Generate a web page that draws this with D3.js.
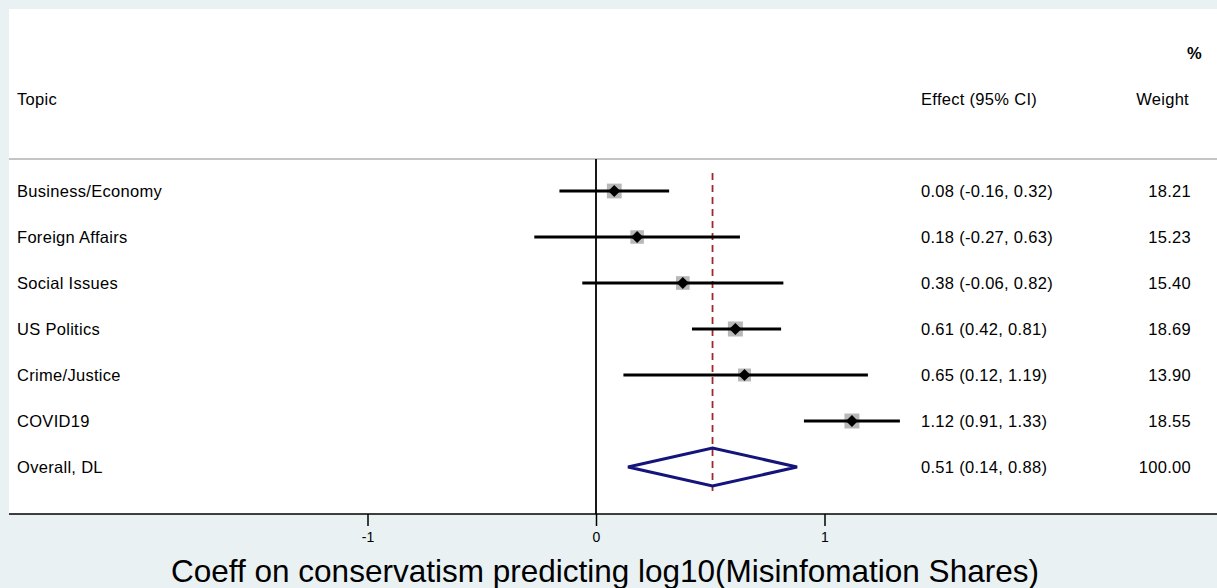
<!DOCTYPE html>
<html>
<head>
<meta charset="utf-8">
<script src="https://cdnjs.cloudflare.com/ajax/libs/d3/7.8.5/d3.min.js"></script>
<style>
  body { margin: 0; background: #e9f1f3; }
  svg { display: block; }
  text { font-family: "Liberation Sans", Arial, sans-serif; fill: #000; }
  .t { font-size: 16.5px; letter-spacing: 0.3px; }
</style>
</head>
<body>
<div id="chart"></div>
<script>
// forest plot data
var topics = ["Business/Economy", "Foreign Affairs", "Social Issues", "US Politics", "Crime/Justice", "COVID19"];
var effects = [0.08, 0.18, 0.38, 0.61, 0.65, 1.12];
var lower = [-0.16, -0.27, -0.06, 0.42, 0.12, 0.91];
var upper = [0.32, 0.63, 0.82, 0.81, 1.19, 1.33];
var weights = [18.21, 15.23, 15.40, 18.69, 13.90, 18.55];
var overall = {label: "Overall, DL", effect: 0.51, lower: 0.14, upper: 0.88, weight: 100.00};
var xTicks = [-1, 0, 1];

var W = 1217, H = 588;

var svg = d3.select("#chart").append("svg")
    .attr("width", W)
    .attr("height", H);

// white plot panel
svg.append("rect")
    .attr("x", 9).attr("y", 9)
    .attr("width", W - 9).attr("height", 514 - 9)
    .attr("fill", "#fff");

var x = d3.scaleLinear()
    .domain([-1, 1])
    .range([367.5, 824.5]);

var rows = topics.map(function(t, i) {
    return {label: t, effect: effects[i], lower: lower[i], upper: upper[i], weight: weights[i]};
});
var allRows = rows.concat([overall]);

var y = d3.scalePoint()
    .domain(allRows.map(function(d) { return d.label; }))
    .range([191, 467]);

// plain hyphen instead of unicode minus
var f2 = d3.format(".2f");
function fmt(v) { return f2(v).replace("\u2212", "-"); }

// header
svg.append("text").attr("class", "t").attr("x", 17).attr("y", 105).text("Topic");
svg.append("text").attr("class", "t").attr("x", 921).attr("y", 105).text("Effect (95% CI)");
svg.append("text").attr("class", "t").attr("x", 1189).attr("y", 105).attr("text-anchor", "end").text("Weight");
svg.append("text").attr("class", "t").attr("x", 1202).attr("y", 59).attr("text-anchor", "end").style("font-weight", "bold").text("%");

svg.append("line")
    .attr("x1", 9).attr("x2", W)
    .attr("y1", 159).attr("y2", 159)
    .attr("stroke", "#c4c4c4").attr("stroke-width", 2);

// zero line
svg.append("line")
    .attr("x1", x(0)).attr("x2", x(0))
    .attr("y1", 159).attr("y2", 514)
    .attr("stroke", "#000").attr("stroke-width", 1.8);

// overall dashed line
svg.append("line")
    .attr("x1", x(overall.effect)).attr("x2", x(overall.effect))
    .attr("y1", 173).attr("y2", 491)
    .attr("stroke", "#a0282d").attr("stroke-width", 1.8)
    .attr("stroke-dasharray", "7,5");

// weight boxes
var boxScale = d3.scaleSqrt().domain([0, 18.69]).range([0, 15]);

var g = svg.append("g");

g.selectAll(".box").data(rows).enter().append("rect")
    .attr("class", "box")
    .attr("x", function(d) { return x(d.effect) - boxScale(d.weight) / 2; })
    .attr("y", function(d) { return y(d.label) - boxScale(d.weight) / 2; })
    .attr("width", function(d) { return boxScale(d.weight); })
    .attr("height", function(d) { return boxScale(d.weight); })
    .attr("fill", "#b8b8b8");

g.selectAll(".ci").data(rows).enter().append("line")
    .attr("class", "ci")
    .attr("x1", function(d) { return x(d.lower); })
    .attr("x2", function(d) { return x(d.upper); })
    .attr("y1", function(d) { return y(d.label); })
    .attr("y2", function(d) { return y(d.label); })
    .attr("stroke", "#000").attr("stroke-width", 3.2);

g.selectAll(".pt").data(rows).enter().append("path")
    .attr("class", "pt")
    .attr("d", function(d) {
        var cx = x(d.effect), cy = y(d.label), r = 6;
        return "M" + (cx - r) + "," + cy + "L" + cx + "," + (cy - r) + "L" + (cx + r) + "," + cy + "L" + cx + "," + (cy + r) + "Z";
    })
    .attr("fill", "#000");

// overall diamond
svg.append("path")
    .attr("d", function() {
        var cy = y(overall.label), h = 19;
        return "M" + x(overall.lower) + "," + cy +
            "L" + x(overall.effect) + "," + (cy - h) +
            "L" + x(overall.upper) + "," + cy +
            "L" + x(overall.effect) + "," + (cy + h) + "Z";
    })
    .attr("fill", "none")
    .attr("stroke", "#14147a")
    .attr("stroke-width", 3);

// row labels
svg.selectAll(".lab").data(allRows).enter().append("text")
    .attr("class", "t")
    .attr("x", 17)
    .attr("y", function(d) { return y(d.label) + 6; })
    .text(function(d) { return d.label; });

svg.selectAll(".eff").data(allRows).enter().append("text")
    .attr("class", "t")
    .attr("x", 921)
    .attr("y", function(d) { return y(d.label) + 6; })
    .text(function(d) { return fmt(d.effect) + " (" + fmt(d.lower) + ", " + fmt(d.upper) + ")"; });

svg.selectAll(".wt").data(allRows).enter().append("text")
    .attr("class", "t")
    .attr("x", 1191)
    .attr("y", function(d) { return y(d.label) + 6; })
    .attr("text-anchor", "end")
    .text(function(d) { return fmt(d.weight); });

// x axis
svg.append("line")
    .attr("x1", 9).attr("x2", W)
    .attr("y1", 514).attr("y2", 514)
    .attr("stroke", "#000").attr("stroke-width", 1.5);

var xAxis = d3.axisBottom(x)
    .tickValues(xTicks)
    .tickSize(12)
    .tickPadding(6)
    .tickFormat(function(d) { return String(d); });

var ax = svg.append("g")
    .attr("transform", "translate(0,514)")
    .call(xAxis);
ax.select(".domain").remove();
ax.selectAll(".tick line").attr("stroke", "#000").attr("stroke-width", 1.5);
ax.selectAll(".tick text")
    .style("font-family", "'Liberation Sans', Arial, sans-serif")
    .style("font-size", "14px")
    .attr("fill", "#000");

svg.append("text")
    .attr("x", 605)
    .attr("y", 582)
    .attr("text-anchor", "middle")
    .style("font-size", "31.5px")
    .text("Coeff on conservatism predicting log10(Misinfomation Shares)");
</script>
</body>
</html>
